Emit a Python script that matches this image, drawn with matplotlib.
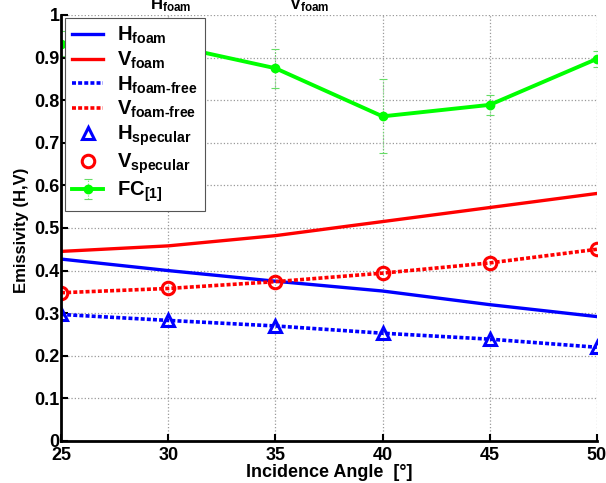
import numpy as np
import matplotlib
matplotlib.use("Agg")
import matplotlib.pyplot as plt

plt.rcParams['font.family'] = ['Liberation Sans', 'DejaVu Sans']
plt.rcParams['font.weight'] = 'bold'
plt.rcParams['mathtext.fontset'] = 'custom'
plt.rcParams['mathtext.rm'] = 'Liberation Sans:bold'
plt.rcParams['mathtext.it'] = 'Liberation Sans:bold'
plt.rcParams['mathtext.bf'] = 'Liberation Sans:bold'

# incidence angles (deg)
angles = [25, 30, 35, 40, 45, 50]

# emissivity values
h_foam = [0.427, 0.400, 0.375, 0.352, 0.320, 0.292]
v_foam = [0.445, 0.458, 0.482, 0.515, 0.548, 0.581]
h_foam_free = [0.297, 0.283, 0.270, 0.253, 0.239, 0.220]
v_foam_free = [0.348, 0.358, 0.374, 0.394, 0.418, 0.450]
h_specular = [0.297, 0.283, 0.270, 0.253, 0.239, 0.220]
v_specular = [0.348, 0.358, 0.374, 0.394, 0.418, 0.450]

# foam coverage and its spread
fc = [0.933, 0.930, 0.875, 0.762, 0.789, 0.897]
fc_err = [0.03, 0.03, 0.046, 0.087, 0.023, 0.018]

fig = plt.figure(figsize=(6.06, 4.83), dpi=100)
ax = fig.add_axes([0.1007, 0.087, 0.8843, 0.882])

dot = (0, (1.1, 0.6))
ax.plot(angles, h_foam, color='#0000ff', lw=2.4, label=r'H$_{foam}$')
ax.plot(angles, v_foam, color='#ff0000', lw=2.4, label=r'V$_{foam}$')
ax.plot(angles, h_foam_free, color='#0000ff', lw=2.6, ls=dot, label=r'H$_{foam‐free}$')
ax.plot(angles, v_foam_free, color='#ff0000', lw=2.6, ls=dot, label=r'V$_{foam‐free}$')
ax.plot(angles, h_specular, ls='none', marker='^', ms=8, mfc='none', mec='#0000ff', mew=2.2,
        label=r'H$_{specular}$')
ax.plot(angles, v_specular, ls='none', marker='o', ms=9, mfc='none', mec='#ff0000', mew=2.2,
        label=r'V$_{specular}$')
eb = ax.errorbar(angles, fc, yerr=fc_err, color='#00ff00', ecolor='#66dd66', elinewidth=0.8,
                 capsize=3, capthick=0.8, lw=2.8, marker='o', ms=6, label=r'FC$_{[1]}$')
for c in eb[2]:
    c.set_linestyle(':')

ax.set_xlim(25, 50)
ax.set_ylim(0, 1)
ax.set_xticks([25, 30, 35, 40, 45, 50])
ax.set_yticks(np.arange(0, 1.01, 0.1))
ax.set_yticklabels(['0', '0.1', '0.2', '0.3', '0.4', '0.5', '0.6', '0.7', '0.8', '0.9', '1'])
ax.tick_params(direction='in', length=5, width=1.5, labelsize=13, pad=1)
ax.tick_params(axis='x', pad=4)
ax.grid(True, ls=':', color='#999999', lw=0.9)
ax.spines['top'].set_visible(False)
ax.spines['right'].set_visible(False)
ax.spines['left'].set_linewidth(2)
ax.spines['bottom'].set_linewidth(2)
ax.set_xlabel('Incidence Angle  [°]', fontsize=13, fontweight='bold', labelpad=0)
ax.set_ylabel('Emissivity (H,V)', fontsize=12, fontweight='bold',
              family=['Liberation Sans Narrow', 'Liberation Sans'])
ax.yaxis.set_label_coords(-0.06, 0.495)

leg = ax.legend(loc='upper left', bbox_to_anchor=(0.0075, 0.993), borderaxespad=0,
                fontsize=14.5, fancybox=False, edgecolor='#555555', framealpha=1,
                handlelength=1.55, labelspacing=0.17, borderpad=0.35, handletextpad=0.7)
leg.get_frame().set_linewidth(0.8)

# partially visible title from the original figure
fig.text(0.2475, 0.980, r'H$_{foam}$', fontsize=12, ha='left', va='baseline')
fig.text(0.477, 0.980, r'V$_{foam}$', fontsize=12, ha='left', va='baseline')

fig.savefig('out.png', dpi=100)
